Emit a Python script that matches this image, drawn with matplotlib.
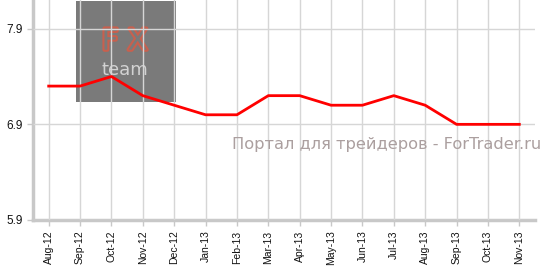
import matplotlib
matplotlib.use("Agg")
from matplotlib import pyplot as plt
from matplotlib.patches import Rectangle
import matplotlib.patheffects as pe

# Monthly values
months = ["Aug-12", "Sep-12", "Oct-12", "Nov-12", "Dec-12", "Jan-13", "Feb-13", "Mar-13",
          "Apr-13", "May-13", "Jun-13", "Jul-13", "Aug-13", "Sep-13", "Oct-13", "Nov-13"]
values = [7.3, 7.3, 7.4, 7.2, 7.1, 7.0, 7.0, 7.2, 7.2, 7.1, 7.1, 7.2, 7.1, 6.9, 6.9, 6.9]
y_ticks = [5.9, 6.9, 7.9]

fig = plt.figure(figsize=(5.48, 2.68), dpi=100)
ax = fig.add_axes([33 / 548, 48 / 268, 502 / 548, 220 / 268])

x = list(range(len(months)))

# gray logo box behind the grid
ax.add_patch(Rectangle((0.86, 7.135), 3.19, 1.05, facecolor="#7a7a7a", edgecolor="none", zorder=0))
ax.text(2.42, 7.68, "F X", color="#7a7a7a", fontsize=21, ha="center", va="baseline",
        zorder=1, path_effects=[pe.Stroke(linewidth=3, foreground="#c8604e"), pe.Normal()])
ax.text(2.42, 7.42, "team", color="#d2d2d2", fontsize=13, ha="center", va="baseline",
        zorder=1)

ax.plot(x, values, color="#ff0000", linewidth=2, zorder=3)

ax.text(15.7, 6.685, "Портал для трейдеров - ForTrader.ru", color="#ab9f9f",
        fontsize=11.7, ha="right", va="center", zorder=4)

ax.set_xlim(-0.5, 15.5)
ax.set_ylim(5.9, 8.2)
ax.set_xticks(x)
ax.set_xticklabels(months, rotation=90, fontsize=7.5, color="#111111", family="Liberation Sans")
ax.set_yticks(y_ticks)
ax.set_yticklabels([str(v) for v in y_ticks], fontsize=8.5, color="#111111", family="Liberation Sans")

ax.grid(True, color="#d6d6d6", linewidth=1, zorder=2)
ax.set_axisbelow(False)
for s in ["top", "right"]:
    ax.spines[s].set_visible(False)
for s in ["left", "bottom"]:
    ax.spines[s].set_color("#c8c8c8")
    ax.spines[s].set_linewidth(2.5)
ax.tick_params(axis="both", colors="#c8c8c8", length=4, width=1, labelcolor="#111111")

fig.savefig("out.png", dpi=100)
